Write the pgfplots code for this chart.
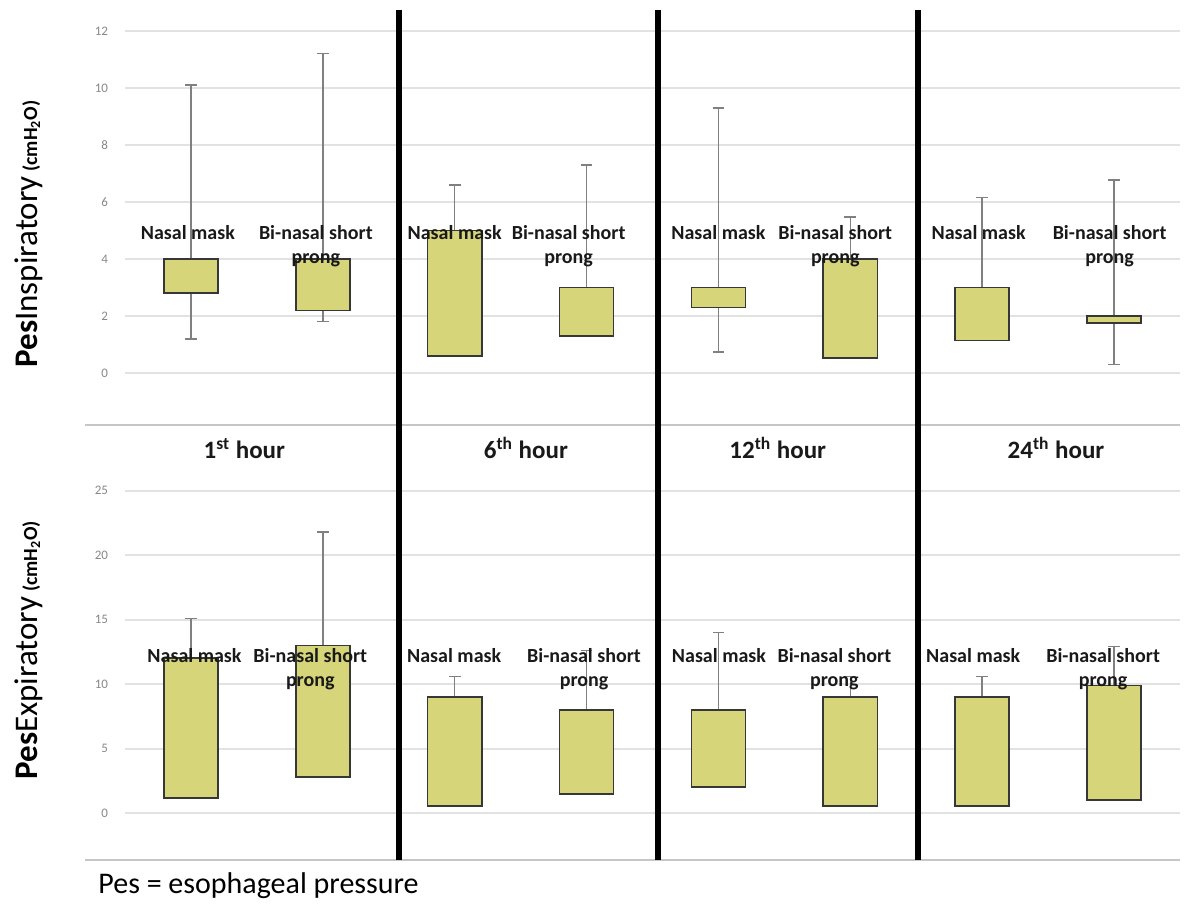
\documentclass[border=0pt]{standalone}
\usepackage{fontspec}
\setmainfont{Carlito}
\usepackage{pgfplots}
\pgfplotsset{compat=1.18}
\usepgfplotslibrary{statistics}
\definecolor{boxfill}{RGB}{214,213,122}
\definecolor{boxedge}{RGB}{55,55,55}
\definecolor{whisk}{RGB}{128,128,128}
\definecolor{gridc}{RGB}{226,226,226}
\definecolor{tickc}{RGB}{135,135,135}
\pgfplotsset{
 panel/.style={scale only axis, width=527.5pt, xmin=-0.5, xmax=7.5, clip=false,
   axis line style={draw=none}, major tick style={draw=none}, xtick=\empty,
   ymajorgrids, major grid style={draw=gridc, line width=1pt},
   yticklabel style={font=\fontsize{6.5}{8}\selectfont, text=tickc, xshift=-5pt},
   /pgf/number format/assume math mode=true,
   boxplot/draw direction=y,
   boxplot/every box/.style={draw=boxedge, fill=boxfill, line width=0.8pt},
   boxplot/every whisker/.style={draw=whisk, line width=0.7pt},
   boxplot/every median/.style={draw=boxedge, line width=0.8pt},
   boxplot/box extend=0.41, boxplot/whisker extend=0.09},
}
\tikzset{
 lbl/.style={font=\fontsize{10}{12}\selectfont\bfseries, anchor=base, inner sep=0pt, text=black!90},
 hr/.style={font=\fontsize{12.5}{15}\selectfont\bfseries, anchor=base, inner sep=0pt, text=black!90},
}
\newcommand\bx[5]{\addplot[boxplot prepared={draw position=#1, lower whisker=#2, lower quartile=#3, median=#4, upper quartile=#4, upper whisker=#5}] coordinates {};}
\begin{document}
\begin{tikzpicture}
\path[use as bounding box] (0,0) rectangle (593pt,451.5pt);
% ---------- top panel ----------
\begin{axis}[panel, at={(62.5pt,239pt)}, anchor=south west, height=207pt,
  ymin=-1.82, ymax=12.7, ytick={0,2,...,12}]
\bx{0}{1.2}{2.8}{4.0}{10.1}
\bx{1}{1.8}{2.2}{4.0}{11.2}
\bx{2}{0.6}{0.6}{5.0}{6.6}
\bx{3}{1.3}{1.3}{3.0}{7.3}
\bx{4}{0.74}{2.3}{3.0}{9.3}
\bx{5}{0.53}{0.53}{4.0}{5.47}
\bx{6}{1.15}{1.15}{3.0}{6.15}
\bx{7}{0.3}{1.75}{2.0}{6.77}
\draw[gray!45, line width=0.75pt] (rel axis cs:-0.038,0) -- (rel axis cs:1,0);
\node[lbl] at (axis cs:-0.023,4.70) {Nasal mask};
\node[lbl] at (axis cs:0.947,4.70) {Bi-nasal short};
\node[lbl, yshift=-12pt] at (axis cs:0.947,4.70) {prong};
\node[lbl] at (axis cs:2.0,4.70) {Nasal mask};
\node[lbl] at (axis cs:2.864,4.70) {Bi-nasal short};
\node[lbl, yshift=-12pt] at (axis cs:2.864,4.70) {prong};
\node[lbl] at (axis cs:4.0,4.70) {Nasal mask};
\node[lbl] at (axis cs:4.886,4.70) {Bi-nasal short};
\node[lbl, yshift=-12pt] at (axis cs:4.886,4.70) {prong};
\node[lbl] at (axis cs:5.973,4.70) {Nasal mask};
\node[lbl] at (axis cs:6.966,4.70) {Bi-nasal short};
\node[lbl, yshift=-12pt] at (axis cs:6.966,4.70) {prong};
\node[hr] at (axis cs:0.405,-2.98) {1\textsuperscript{st} hour};
\node[hr] at (axis cs:2.54,-2.98) {6\textsuperscript{th} hour};
\node[hr] at (axis cs:4.45,-2.98) {12\textsuperscript{th} hour};
\node[hr] at (axis cs:6.56,-2.98) {24\textsuperscript{th} hour};
\end{axis}
% ---------- bottom panel ----------
\begin{axis}[panel, at={(62.5pt,21.5pt)}, anchor=south west, height=195pt,
  ymin=-3.64, ymax=26.6, ytick={0,5,...,25}]
\bx{0}{1.16}{1.16}{12.0}{15.1}
\bx{1}{2.8}{2.8}{13.0}{21.8}
\bx{2}{0.55}{0.55}{9.0}{10.6}
\bx{3}{1.5}{1.5}{8.0}{12.6}
\bx{4}{2.0}{2.0}{8.0}{14.0}
\bx{5}{0.55}{0.55}{9.0}{10.6}
\bx{6}{0.55}{0.55}{9.0}{10.6}
\bx{7}{1.0}{1.0}{9.9}{12.9}
\draw[gray!45, line width=0.75pt] (rel axis cs:-0.038,0) -- (rel axis cs:1,0);
\node[lbl] at (axis cs:0.027,11.7) {Nasal mask};
\node[lbl] at (axis cs:0.905,11.7) {Bi-nasal short};
\node[lbl, yshift=-12pt] at (axis cs:0.905,11.7) {prong};
\node[lbl] at (axis cs:1.996,11.7) {Nasal mask};
\node[lbl] at (axis cs:2.981,11.7) {Bi-nasal short};
\node[lbl, yshift=-12pt] at (axis cs:2.981,11.7) {prong};
\node[lbl] at (axis cs:4.004,11.7) {Nasal mask};
\node[lbl] at (axis cs:4.879,11.7) {Bi-nasal short};
\node[lbl, yshift=-12pt] at (axis cs:4.879,11.7) {prong};
\node[lbl] at (axis cs:5.932,11.7) {Nasal mask};
\node[lbl] at (axis cs:6.917,11.7) {Bi-nasal short};
\node[lbl, yshift=-12pt] at (axis cs:6.917,11.7) {prong};
\draw[black, line width=3pt] (axis cs:1.576,-3.64) -- (axis cs:1.576,62.25);
\draw[black, line width=3pt] (axis cs:3.545,-3.64) -- (axis cs:3.545,62.25);
\draw[black, line width=3pt] (axis cs:5.515,-3.64) -- (axis cs:5.515,62.25);
\end{axis}
% ---------- y labels and footnote ----------
\node[rotate=90, anchor=base west, inner sep=0pt] at (18.5pt,267.5pt)
  {{\fontsize{16.5}{20}\selectfont\textbf{Pes}Inspiratory} {\fontsize{10}{12}\selectfont\bfseries(cmH\textsubscript{2}O)}};
\node[rotate=90, anchor=base west, inner sep=0pt] at (18.5pt,61.5pt)
  {{\fontsize{16.5}{20}\selectfont\textbf{Pes}Expiratory} {\fontsize{10}{12}\selectfont\bfseries(cmH\textsubscript{2}O)}};
\node[anchor=base west, inner sep=0pt] at (49pt,5pt)
  {\fontsize{15}{18}\selectfont Pes = esophageal pressure};
\end{tikzpicture}
\end{document}
